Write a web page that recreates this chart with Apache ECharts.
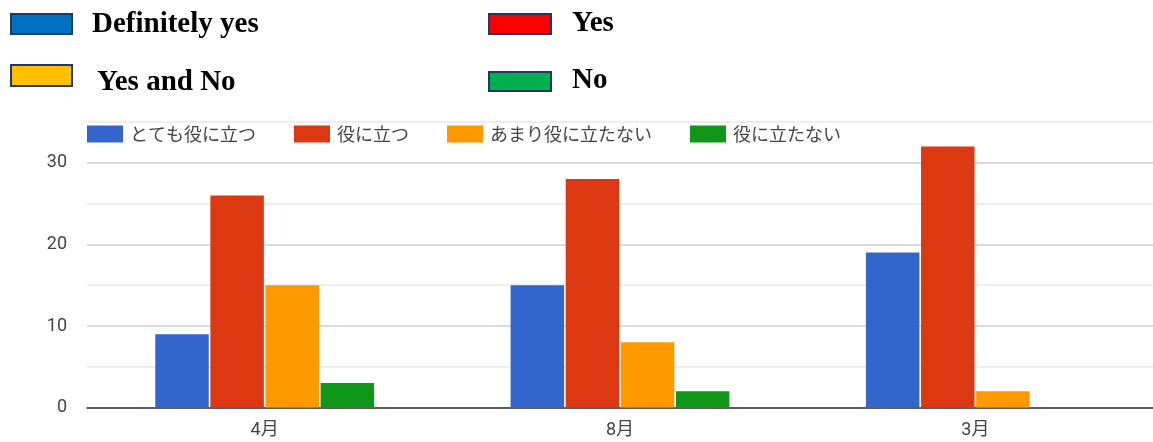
<!DOCTYPE html>
<html>
<head>
<meta charset="utf-8">
<script src="https://cdn.jsdelivr.net/npm/echarts@6/dist/echarts.min.js"></script>
<style>
  html, body { margin: 0; padding: 0; background: #fff; }
  #chart { width: 1153px; height: 442px; }
</style>
</head>
<body>
<div id="chart"></div>
<script>
// Survey months on the x axis
const months = ['4月', '8月', '3月'];

// Answer categories (series names) and their bar colours
const seriesNames = ['とても役に立つ', '役に立つ', 'あまり役に立たない', '役に立たない'];
const seriesColors = ['#3366CC', '#DC3912', '#FF9900', '#109618'];

// Number of respondents per answer, one value per month
const veryUseful = [9, 15, 19];
const useful = [26, 28, 32];
const notVeryUseful = [15, 8, 2];
const notUseful = [3, 2, 0];

// English key shown above the chart
const englishLabels = ['Definitely yes', 'Yes', 'Yes and No', 'No'];
const englishColors = ['#0070C0', '#FF0000', '#FFC000', '#00B050'];

// Value axis range and tick step
const yMax = 35;
const yStep = 5;

const seriesValues = [veryUseful, useful, notVeryUseful, notUseful];

// Boxes and texts of the English key, laid out in two columns
const keyBoxes = [
  { x: 11, y: 14, w: 61, h: 20, tx: 92, ty: 25 },
  { x: 489, y: 14, w: 62, h: 20, tx: 572, ty: 24 },
  { x: 11, y: 65, w: 61, h: 21, tx: 97, ty: 83 },
  { x: 489, y: 72, w: 62, h: 19, tx: 572, ty: 81 }
];
const keyGraphics = [];
keyBoxes.forEach((b, i) => {
  keyGraphics.push({
    type: 'rect',
    shape: { x: b.x, y: b.y, width: b.w, height: b.h },
    style: { fill: englishColors[i], stroke: '#203864', lineWidth: 2 }
  });
  keyGraphics.push({
    type: 'text',
    x: b.tx,
    y: b.ty,
    style: {
      text: englishLabels[i],
      font: 'bold 29px "Liberation Serif", "Times New Roman", serif',
      fill: '#000',
      verticalAlign: 'middle'
    }
  });
});

const chart = echarts.init(document.getElementById('chart'), null, { renderer: 'canvas' });

chart.setOption({
  animation: false,
  backgroundColor: '#fff',
  color: seriesColors,
  textStyle: { fontFamily: 'Roboto, "Noto Sans CJK JP", sans-serif' },
  graphic: keyGraphics,
  legend: {
    left: 87,
    top: 125,
    padding: 0,
    itemWidth: 36,
    itemHeight: 17,
    itemGap: 38,
    icon: 'rect',
    data: seriesNames,
    textStyle: {
      fontFamily: '"Noto Sans CJK JP", sans-serif',
      fontSize: 18,
      color: '#444',
      padding: [0, 0, 0, 2]
    }
  },
  grid: {
    left: 87,
    top: 122,
    width: 1069,
    height: 285.6,
    containLabel: false
  },
  xAxis: {
    type: 'category',
    data: months,
    axisTick: { show: false },
    axisLine: { lineStyle: { color: '#333', width: 1.5 } },
    axisLabel: {
      fontSize: 18,
      color: '#444',
      margin: 14,
      fontFamily: 'Roboto, "Noto Sans CJK JP", sans-serif'
    }
  },
  yAxis: {
    type: 'value',
    min: 0,
    max: yMax,
    interval: yStep,
    axisLine: { show: false },
    axisTick: { show: false },
    axisLabel: {
      fontSize: 18,
      color: '#444',
      margin: 20,
      formatter: v => (v % 10 === 0 ? String(v) : '')
    },
    splitLine: {
      lineStyle: { color: ['#cfcfcf', '#e9e9e9'], width: 1.5 }
    }
  },
  series: seriesNames.map((name, i) => ({
    name: name,
    type: 'bar',
    data: seriesValues[i],
    barWidth: 53.5,
    barGap: '3%',
    itemStyle: { color: seriesColors[i] }
  }))
});
</script>
</body>
</html>
